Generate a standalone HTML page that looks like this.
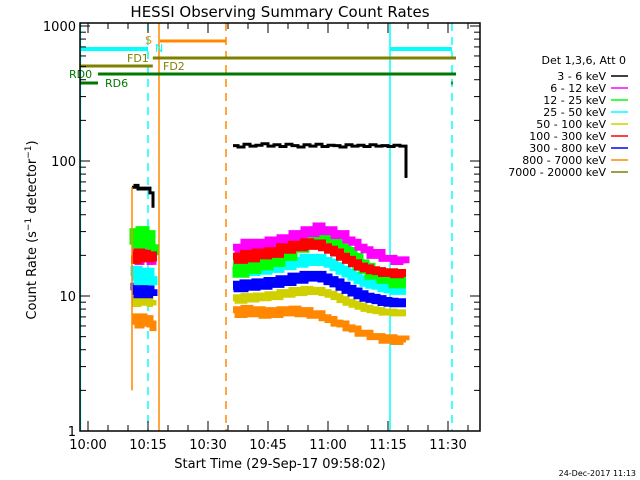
<!DOCTYPE html>
<html><head><meta charset="utf-8"><style>
body{margin:0;background:#fff;}
svg{display:block;font-family:"DejaVu Sans","Liberation Sans",sans-serif;}
</style></head><body>
<svg id="c" width="640" height="480" viewBox="0 0 640 480" xmlns="http://www.w3.org/2000/svg">
<rect width="640" height="480" fill="#fff"/>
<text x="280" y="17" font-size="15" text-anchor="middle">HESSI Observing Summary Count Rates</text>
<text transform="translate(36,230) rotate(-90)" font-size="13" text-anchor="middle">Count Rate (s<tspan dy="-5" font-size="9">−1</tspan><tspan dy="5"> detector</tspan><tspan dy="-5" font-size="9">−1</tspan><tspan dy="5">)</tspan></text>
<text x="280" y="468" font-size="13" text-anchor="middle">Start Time (29-Sep-17 09:58:02)</text>
<text x="636" y="476" font-size="8" text-anchor="end">24-Dec-2017 11:13</text>
<g id="marks"></g>
<g id="axes"></g>
<g id="legend"></g>
</svg>
<script>
// chart data (minutes since 10:00)
const seg1Times=[11,11.75,12.5,13.25,14,14.75,15.5,16.25];
const seg2Times=[36.25,37.5,39,40.5,42,43.5,45,46.5,48,49.5,51,52.5,54,55.5,57,58.5,60,61.5,63,64.5,66,67.5,69,70.5,72,73.5,75,76.5,78,79.5];
const black1=[64,66,62,63,62,63,58,45];
const magenta1=[19,21,18,21,19,20,18,17];
const green1=[24,29,21,30,24,28,22,20];
const cyan1=[14,15.5,13,15,14,15,13,12];
const yellow1=[9.5,8.8,10,9.2,9,9.8,8.8,8.5];
const red1=[20,18.5,21,19,20.5,19,20,18];
const blue1=[11,11.6,10.4,11.2,10.6,11.1,10.4,10];
const orange1=[6.5,7,6.1,7,6.3,6.8,6.2,5.5];
const black2=[130,127,133,129,131,134,129,132,128,133,130,127,132,129,133,128,131,130,127,132,129,131,128,132,129,130,128,131,129,75];
const magenta2=[23,21,25,22,25,23,26,24,27,25,29,27,31,29,33,30,31,28,29,26,25,23,22,20,21,19,19,18,18.5,17.5];
const green2=[16.5,15,18,16,19,17,20,18,22,20,25,23,28,26,30,27,28,25,24,21,19,17,16,14.5,14.5,13.5,13.5,12.5,13,13];
const red2=[19.5,18.5,20.5,19,21,20,21.5,20.5,23,22,24,23,25,23.5,24.5,23,22,21,19.5,18.5,17.5,16.5,16,15.5,15.3,14.8,15,14.5,14.8,14.8];
const cyan2=[15.5,14.8,16,15.2,16.2,15.5,16.8,16,17.5,16.8,18,17.5,19,18,19,18,17.5,16.5,15.5,14.8,14,13.2,12.6,12.2,12,11.5,11.3,11,11,11];
const blue2=[12,11.5,12.3,11.8,12.5,12,12.8,12.4,13.2,12.8,13.8,13.3,14.2,13.8,14.2,13.6,13,12.5,11.8,11.2,10.7,10.2,9.8,9.6,9.4,9.1,9,8.9,8.9,8.9];
const yellow2=[9.7,9.3,9.9,9.5,10,9.7,10.2,9.9,10.6,10.3,11,10.6,11.2,10.8,11,10.6,10.3,9.9,9.4,9,8.7,8.4,8.1,7.9,7.8,7.6,7.6,7.5,7.5,7.5];
const orange2=[7.9,7.3,8.1,7.4,7.9,7.2,7.8,7.3,7.9,7.5,8,7.4,7.8,7.2,7.4,6.9,6.7,6.3,6.2,5.8,5.7,5.3,5.3,5,5,4.7,4.9,4.6,4.8,4.7];
const bandLabels=["3 - 6 keV","6 - 12 keV","12 - 25 keV","25 - 50 keV","50 - 100 keV","100 - 300 keV","300 - 800 keV","800 - 7000 keV","7000 - 20000 keV"];
const bandColors=["#000","#f0f","#0f0","#0ff","#d0d000","#f00","#00f","#f80","#808000"];
const xTickLabels=["10:00","10:15","10:30","10:45","11:00","11:15","11:30"];
const yTickLabels=["1","10","100","1000"];

const NS="http://www.w3.org/2000/svg";
const X0=80,X1=480,Y0=23,Y1=431;
const xs=m=>88+4*m;              // minutes since 10:00
const ys=v=>431-135*Math.log10(v);
function mk(tag,attrs,parent){const e=document.createElementNS(NS,tag);for(const k in attrs)e.setAttribute(k,attrs[k]);parent.appendChild(e);return e;}
const marks=document.getElementById('marks'),axes=document.getElementById('axes'),leg=document.getElementById('legend');

function vline(m,color,dash,name){const l=mk('line',{x1:xs(m),x2:xs(m),y1:Y0,y2:Y1,stroke:color,'stroke-width':1.5},marks);if(dash)l.setAttribute('stroke-dasharray','8,6');

}
vline(-1.9,"#0ff",false,"saa-start-line");
vline(15,"#0ff",true,"night-start-line");
vline(17.75,"#f80",false,"flare-line");
vline(34.5,"#f80",true,"flare-end-line");
vline(75.5,"#0ff",false,"saa-line-2");
vline(91,"#0ff",true,"night-line-2");

function hbar(a,b,y,color,w,name){const l=mk('line',{x1:xs(a),x2:xs(b),y1:y,y2:y,stroke:color,'stroke-width':w},marks);

}
hbar(-2,15,49,"#0ff",4,"saa-bar-1");hbar(75.5,91,49,"#0ff",4,"saa-bar-2");
hbar(18,34.5,41,"#f80",3,"flare-bar");
hbar(16.2,92,58,"#808000",3,"fd1-bar");
hbar(-2,16.2,66,"#808000",3,"fd2-bar");
hbar(2.5,92,74,"#007800",3,"rd0-bar");
hbar(-2,2.5,83,"#007800",3,"rd6-bar");
hbar(90.8,91.2,83,"#007800",3,"rd6-dot");
function lab(x,y,t,c,name){const e=mk('text',{x:x,y:y,fill:c,'font-size':11},marks);e.textContent=t;

}
lab(145,44,"S","#f80","label-s");lab(155,52,"N","#0ff","label-n");
lab(127,62,"FD1","#808000","label-fd1");lab(163,70,"FD2","#808000","label-fd2");
lab(69,78,"RD0","#007800","label-rd0");lab(105,87,"RD6","#007800","label-rd6");

const series=[
 ["orange",orange1,orange2,"#f80",7],["yellow",yellow1,yellow2,"#d0d000",7],
 ["blue",blue1,blue2,"#00f",9],["cyan",cyan1,cyan2,"#0ff",9],["green",green1,green2,"#0f0",11],
 ["magenta",magenta1,magenta2,"#f0f",7],["red",red1,red2,"#f00",8],["black",black1,black2,"#000",3]];
series.forEach(s=>{
 [[seg1Times,s[1]],[seg2Times,s[2]]].forEach((seg,i)=>{
  let pts=[];
  seg[0].forEach((t,j)=>{const y=ys(seg[1][j]).toFixed(1);const xa=xs(t).toFixed(1);const xb=xs(j+1<seg[0].length?seg[0][j+1]:t).toFixed(1);pts.push(xa+","+y,xb+","+y);});
  const p=mk('polyline',{points:pts.join(" "),fill:"none",stroke:s[3],'stroke-width':s[4]},marks);
  
  
 });
});
const bs=mk('line',{x1:xs(seg1Times[0]),x2:xs(seg1Times[0]),y1:ys(2),y2:ys(black1[0]),stroke:"#f80",'stroke-width':1.5},marks);


const be=mk('line',{x1:xs(seg2Times[seg2Times.length-1]),x2:xs(seg2Times[seg2Times.length-1]),y1:ys(black2[black2.length-2]),y2:ys(black2[black2.length-1]),stroke:"#000",'stroke-width':1.5},marks);



const fr=mk('rect',{x:X0,y:Y0,width:X1-X0,height:Y1-Y0,fill:"none",stroke:"#000",'stroke-width':1.5},axes);


for(let m=0;m<=95;m+=5){const x=xs(m);const L=(m%15===0)?10:6;
 mk('line',{x1:x,x2:x,y1:Y1,y2:Y1-L,stroke:"#000"},axes);mk('line',{x1:x,x2:x,y1:Y0,y2:Y0+L,stroke:"#000"},axes);}
xTickLabels.forEach((t,i)=>{const e=mk('text',{x:xs(i*15),y:449,'font-size':13,'text-anchor':'middle'},axes);e.textContent=t;

});
for(let d=0;d<3;d++)for(let k=1;k<=10;k++){if(d>0&&k===1)continue;const y=ys(k*Math.pow(10,d));const L=(k===1||k===10)?10:6;
 mk('line',{x1:X0,x2:X0+L,y1:y,y2:y,stroke:"#000"},axes);mk('line',{x1:X1,x2:X1-L,y1:y,y2:y,stroke:"#000"},axes);}
yTickLabels.forEach((t,i)=>{const e=mk('text',{x:76,y:ys(Math.pow(10,i))+5,'font-size':13,'text-anchor':'end'},axes);e.textContent=t;

});

const lt=mk('text',{x:626,y:64,'font-size':11,'text-anchor':'end'},leg);lt.textContent="Det 1,3,6, Att 0";


bandLabels.forEach((t,i)=>{const y=76+i*12;
 const e=mk('text',{x:606,y:y+4,'font-size':11,'text-anchor':'end'},leg);e.textContent=t;
 
 
 const l=mk('line',{x1:611,x2:628,y1:y,y2:y,stroke:bandColors[i],'stroke-width':1.5},leg);
 
 });
</script>
</body></html>
